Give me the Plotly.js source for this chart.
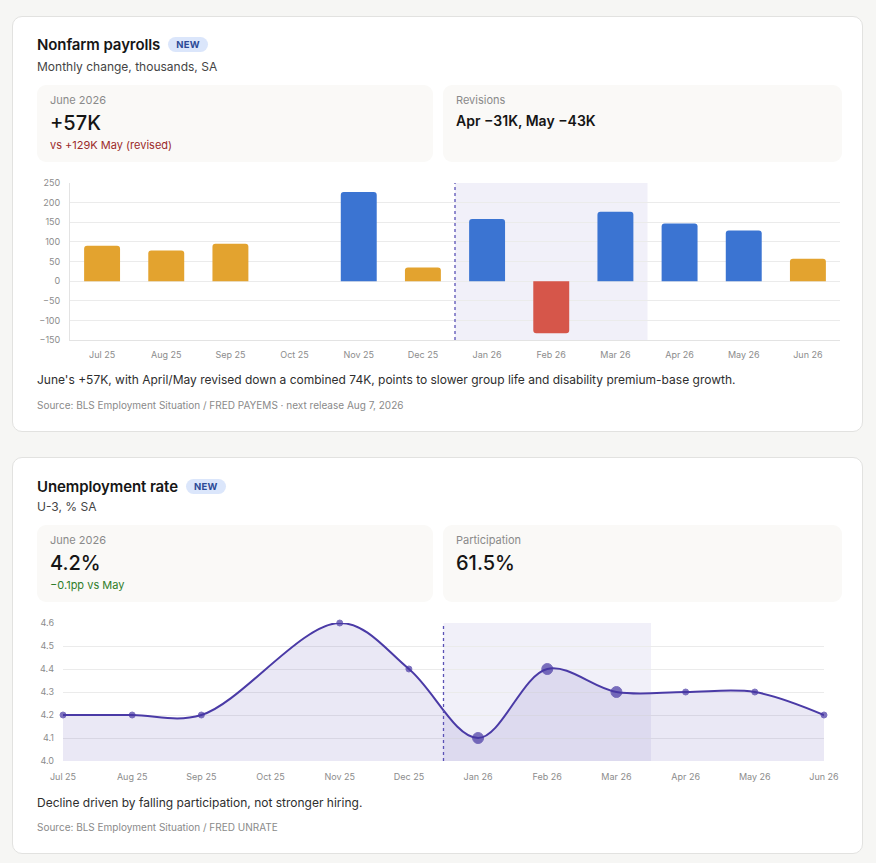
<!DOCTYPE html>
<html>
<head>
<meta charset="utf-8">
<script src="https://cdn.plot.ly/plotly-3.0.1.min.js"></script>
<style>
  html, body { margin:0; padding:0; background:#f6f6f4; font-family: Inter, "Noto Sans", sans-serif; }
  #page { position:relative; width:876px; height:863px; background:#f6f6f4; }
  .card { position:absolute; left:12px; width:851px; background:#fff; border:1px solid #e2e2e0; border-radius:10px; box-sizing:border-box; }
  .abs { position:absolute; white-space:nowrap; }
  .title { font-size:15px; font-weight:600; color:#161616; letter-spacing:-0.1px; }
  .badge { display:inline-block; margin-left:8px; background:#dbe6fb; color:#2c4a96; font-size:9.5px; font-weight:700; padding:2px 8px; border-radius:9px; vertical-align:2px; letter-spacing:0.3px; }
  .sub { font-size:12px; color:#444; }
  .kpi { position:absolute; background:#faf9f7; border-radius:9px; }
  .klabel { position:absolute; left:13px; top:8px; font-size:11px; color:#8a8a8a; }
  .kval { position:absolute; left:13px; top:26px; font-size:20px; color:#151515; font-weight:500; }
  .kval2 { position:absolute; left:13px; top:27px; font-size:14px; color:#151515; font-weight:600; }
  .knote { position:absolute; left:13px; top:53px; font-size:11px; }
  .caption { font-size:12px; color:#2e2e2e; }
  .source { font-size:10px; color:#8a8a8a; }
</style>
</head>
<body>
<div id="page">
  <div class="card" style="top:16px;height:416px;"></div>
  <div class="card" style="top:457px;height:397px;"></div>

  <div class="abs title" style="left:37px;top:35px;">Nonfarm payrolls<span class="badge">NEW</span></div>
  <div class="abs sub" style="left:37px;top:59px;">Monthly change, thousands, SA</div>
  <div class="kpi" style="left:37px;top:85px;width:396px;height:77px;">
    <div class="klabel">June 2026</div>
    <div class="kval">+57K</div>
    <div class="knote" style="color:#9c2b2b;">vs +129K May (revised)</div>
  </div>
  <div class="kpi" style="left:443px;top:85px;width:399px;height:77px;">
    <div class="klabel">Revisions</div>
    <div class="kval2">Apr −31K, May −43K</div>
  </div>
  <div id="bars" class="abs" style="left:37px;top:175px;width:810px;height:190px;"></div>
  <div class="abs caption" style="left:37px;top:372px;">June's +57K, with April/May revised down a combined 74K, points to slower group life and disability premium-base growth.</div>
  <div class="abs source" style="left:37px;top:399px;">Source: BLS Employment Situation / FRED PAYEMS · next release Aug 7, 2026</div>

  <div class="abs title" style="left:37px;top:477px;">Unemployment rate<span class="badge">NEW</span></div>
  <div class="abs sub" style="left:37px;top:499px;">U-3, % SA</div>
  <div class="kpi" style="left:37px;top:525px;width:396px;height:77px;">
    <div class="klabel">June 2026</div>
    <div class="kval">4.2%</div>
    <div class="knote" style="color:#2f7d2a;">−0.1pp vs May</div>
  </div>
  <div class="kpi" style="left:443px;top:525px;width:399px;height:77px;">
    <div class="klabel">Participation</div>
    <div class="kval">61.5%</div>
  </div>
  <div id="line" class="abs" style="left:37px;top:615px;width:810px;height:175px;"></div>
  <div class="abs caption" style="left:37px;top:795px;">Decline driven by falling participation, not stronger hiring.</div>
  <div class="abs source" style="left:37px;top:821px;">Source: BLS Employment Situation / FRED UNRATE</div>
</div>

<script>
// ---- data ----
const months = ["Jul 25","Aug 25","Sep 25","Oct 25","Nov 25","Dec 25","Jan 26","Feb 26","Mar 26","Apr 26","May 26","Jun 26"];
const payrolls = [90, 78, 95, null, 227, 35, 158, -133, 177, 147, 129, 57];
const unrate = [4.2, 4.2, 4.2, null, 4.6, 4.4, 4.1, 4.4, 4.3, 4.3, 4.3, 4.2];
const highlightMonths = ["Jan 26","Feb 26","Mar 26"];

// ---- styles ----
const FONT = "Inter, 'Noto Sans', sans-serif";
const tickFont = {family: FONT, size: 9, color: "#8c8c8c"};
const gridColor = "#ebebeb";
const hiStart = months.indexOf(highlightMonths[0]) - 0.5;
const hiEnd = months.indexOf(highlightMonths[highlightMonths.length-1]) + 0.5;

function barColor(v){
  if (v === null) return "rgba(0,0,0,0)";
  if (v < 0) return "#d6564a";
  if (v >= 100) return "#3b74d2";
  return "#e3a32f";
}

const hiShapes = [
  {type:"rect", xref:"x", yref:"paper", x0:hiStart, x1:hiEnd, y0:0, y1:1, fillcolor:"#f1f0f9", line:{width:0}, layer:"below"},
  {type:"line", xref:"x", yref:"paper", x0:hiStart, x1:hiStart, y0:0, y1:1, line:{color:"#5a52b6", width:1.3, dash:"dot"}, layer:"above"}
];

Plotly.newPlot("bars", [{
  type:"bar", x:months, y:payrolls,
  marker:{color: payrolls.map(barColor), line:{width:0}},
  width:0.56, hoverinfo:"x+y"
}], {
  margin:{l:33, r:7, t:8, b:25},
  paper_bgcolor:"rgba(0,0,0,0)", plot_bgcolor:"rgba(0,0,0,0)",
  font:{family:FONT},
  barcornerradius:3,
  showlegend:false,
  xaxis:{type:"category", categoryorder:"array", categoryarray:months, range:[-0.5, 11.5], showgrid:false, zeroline:false,
         showline:true, linecolor:"#e3e3e3", linewidth:1, tickfont:tickFont, ticks:"", ticklabelstandoff:6, fixedrange:true},
  yaxis:{range:[-150, 250], dtick:50, tick0:0, showgrid:true, gridcolor:gridColor, gridwidth:1, zeroline:false,
         showline:true, linecolor:"#e3e3e3", linewidth:1, tickfont:tickFont, ticks:"", ticklabelstandoff:7, fixedrange:true},
  shapes: hiShapes
}, {displayModeBar:false, staticPlot:true});

const markerSizes = months.map(m => highlightMonths.includes(m) ? 11 : 6);

Plotly.newPlot("line", [{
  type:"scatter", mode:"lines+markers", x:months, y:unrate,
  connectgaps:true,
  line:{color:"#4a3aa6", width:2, shape:"spline", smoothing:1},
  marker:{color:"#4636a3", size:markerSizes},
  fill:"tozeroy", fillcolor:"rgba(80,65,175,0.12)",
  cliponaxis:false, hoverinfo:"x+y"
}], {
  margin:{l:26, r:23, t:8, b:29},
  paper_bgcolor:"rgba(0,0,0,0)", plot_bgcolor:"rgba(0,0,0,0)",
  font:{family:FONT},
  showlegend:false,
  xaxis:{type:"category", categoryorder:"array", categoryarray:months, range:[0, 11], showgrid:false, zeroline:false,
         showline:false, tickfont:tickFont, ticks:"", ticklabelstandoff:9, fixedrange:true},
  yaxis:{range:[4.0, 4.6], dtick:0.1, tick0:4.0, tickformat:".1f", showgrid:true, gridcolor:gridColor, gridwidth:1, zeroline:false,
         showline:false, tickfont:tickFont, ticks:"", ticklabelstandoff:8, fixedrange:true},
  shapes: hiShapes
}, {displayModeBar:false, staticPlot:true});
</script>
</body>
</html>
